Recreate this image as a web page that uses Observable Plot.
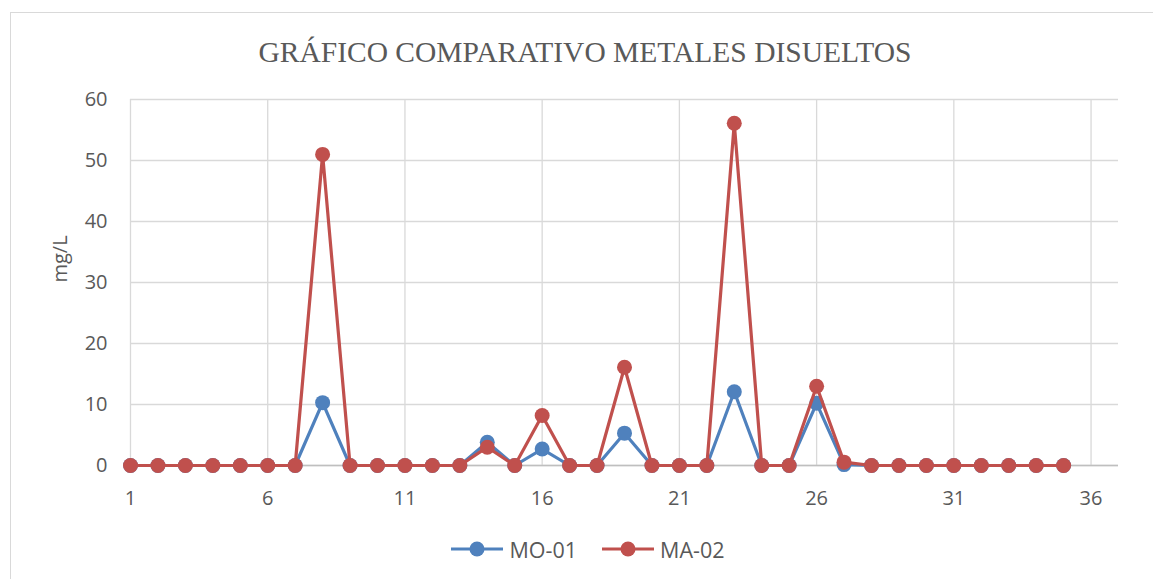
<!DOCTYPE html>
<html>
<head>
<meta charset="utf-8">
<script src="https://cdn.jsdelivr.net/npm/d3@7"></script>
<script src="https://cdn.jsdelivr.net/npm/@observablehq/plot@0.6"></script>
<style>
  html, body { margin: 0; padding: 0; background: #fff; overflow: hidden; }
  #chart { position: relative; width: 1153px; height: 579px; }
  #frame { position: absolute; left: 10px; top: 12px; width: 1160px; height: 600px;
           border: 1.3px solid #d9d9d9; box-sizing: border-box; }
  #title { position: absolute; left: 0; width: 1170px; top: 35px; text-align: center;
           font-family: "Liberation Serif", "Times New Roman", serif; font-size: 29.5px;
           color: #595959; line-height: 34px; }
  #plot { position: absolute; left: 0; top: 80px; }
  #legend { position: absolute; left: 11px; width: 1153px; top: 534px; height: 30px;
            display: flex; justify-content: center; align-items: center;
            font-family: "Open Sans", sans-serif; font-size: 21.5px; color: #595959; }
  .item { display: flex; align-items: center; margin: 0 12px; }
  .item svg { margin-right: 5px; }
</style>
</head>
<body>
<div id="chart">
  <div id="frame"></div>
  <div id="title">GRÁFICO COMPARATIVO METALES DISUELTOS</div>
  <div id="plot"></div>
  <div id="legend"></div>
</div>
<script>
// Sample number on the horizontal axis
const samples = [1, 2, 3, 4, 5, 6, 7, 8, 9, 10, 11, 12, 13, 14, 15, 16, 17, 18,
                 19, 20, 21, 22, 23, 24, 25, 26, 27, 28, 29, 30, 31, 32, 33, 34, 35];

// Dissolved metals concentration (mg/L) per station
const mo01 = [0, 0, 0, 0, 0, 0, 0, 10.3, 0, 0, 0, 0, 0, 3.8, 0, 2.7, 0, 0,
              5.3, 0, 0, 0, 12.1, 0, 0, 10.2, 0.15, 0, 0, 0, 0, 0, 0, 0, 0];
const ma02 = [0, 0, 0, 0, 0, 0, 0, 51, 0, 0, 0, 0, 0, 3.0, 0, 8.2, 0, 0,
              16.1, 0, 0, 0, 56.1, 0, 0, 13, 0.55, 0, 0, 0, 0, 0, 0, 0, 0];

const seriesNames = ["MO-01", "MA-02"];
const seriesColors = ["#4f81bd", "#c0504d"];

const xTicks = [1, 6, 11, 16, 21, 26, 31, 36];
const yTicks = [0, 10, 20, 30, 40, 50, 60];

const rowsMO = samples.map((s, i) => ({sample: s, value: mo01[i]}));
const rowsMA = samples.map((s, i) => ({sample: s, value: ma02[i]}));

const grey = "#595959";

const chart = Plot.plot({
  width: 1153,
  height: 440,
  marginTop: 19,
  marginBottom: 55,
  marginLeft: 130,
  marginRight: 35,
  style: {fontFamily: "'Open Sans', sans-serif", fontSize: "20px", color: grey, background: "transparent"},
  x: {domain: [1, 37], ticks: xTicks},
  y: {domain: [0, 60], ticks: yTicks},
  marks: [
    Plot.gridX(xTicks, {stroke: "#d9d9d9", strokeOpacity: 1, strokeWidth: 1.3}),
    Plot.gridY(yTicks, {stroke: "#d9d9d9", strokeOpacity: 1, strokeWidth: 1.3}),
    Plot.ruleY([0], {stroke: "#bfbfbf", strokeWidth: 1.5}),
    Plot.axisX(xTicks, {tickSize: 0, tickPadding: 25, fill: grey, label: null}),
    Plot.axisY(yTicks, {tickSize: 0, tickPadding: 23, fill: grey, label: null}),
    Plot.text(["mg/L"], {frameAnchor: "left", dx: -70, rotate: -90, fill: grey,
                         fontSize: 20, dy: 0}),
    Plot.line(rowsMO, {x: "sample", y: "value", stroke: seriesColors[0], strokeWidth: 3.2}),
    Plot.dot(rowsMO, {x: "sample", y: "value", r: 7.5, fill: seriesColors[0]}),
    Plot.line(rowsMA, {x: "sample", y: "value", stroke: seriesColors[1], strokeWidth: 3.2}),
    Plot.dot(rowsMA, {x: "sample", y: "value", r: 7.5, fill: seriesColors[1]})
  ]
});
document.getElementById("plot").appendChild(chart);

// Legend: line-and-marker swatch followed by series name
const legend = d3.select("#legend");
seriesNames.forEach((name, i) => {
  const item = legend.append("div").attr("class", "item");
  const sw = item.append("svg").attr("width", 54).attr("height", 20);
  sw.append("line").attr("x1", 1).attr("x2", 53).attr("y1", 10).attr("y2", 10)
    .attr("stroke", seriesColors[i]).attr("stroke-width", 3.2);
  sw.append("circle").attr("cx", 27).attr("cy", 10).attr("r", 7.5).attr("fill", seriesColors[i]);
  item.append("span").text(name);
});
</script>
</body>
</html>
